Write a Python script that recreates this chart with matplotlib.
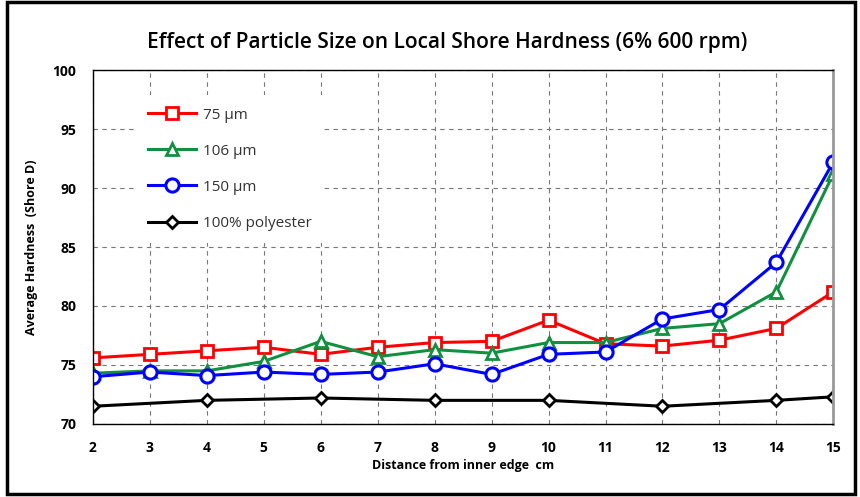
import matplotlib.pyplot as plt
from matplotlib.patches import Rectangle

plt.rcParams['font.family'] = ['Open Sans', 'DejaVu Sans']

# data
distance = [2, 3, 4, 5, 6, 7, 8, 9, 10, 11, 12, 13, 14, 15]
size_75 = [75.6, 75.9, 76.2, 76.5, 75.9, 76.5, 76.9, 77.0, 78.8, 76.8, 76.6, 77.1, 78.1, 81.2]
size_106 = [74.3, 74.5, 74.5, 75.3, 77.0, 75.7, 76.3, 76.0, 76.9, 76.9, 78.1, 78.5, 81.2, 91.2]
size_150 = [74.0, 74.4, 74.1, 74.4, 74.2, 74.4, 75.1, 74.2, 75.9, 76.1, 78.9, 79.7, 83.7, 92.2]
poly_x = [2, 4, 6, 8, 10, 12, 14, 15]
poly_y = [71.5, 72.0, 72.2, 72.0, 72.0, 71.5, 72.0, 72.3]

fig = plt.figure(figsize=(8.6, 4.97), dpi=100)
ax = fig.add_axes([0.108, 0.147, 0.861, 0.712])

lw = 2.2
ms = 8.5
ax.plot(distance, size_75, color='#ff0000', lw=lw, marker='s', ms=ms,
        mfc='white', mew=2, label='75 µm')
ax.plot(distance, size_106, color='#109040', lw=lw, marker='^', ms=ms,
        mfc='white', mew=2, label='106 µm')
ax.plot(distance, size_150, color='#0000ff', lw=lw, marker='o', ms=ms + 1,
        mfc='white', mew=2.2, label='150 µm')
ax.plot(poly_x, poly_y, color='black', lw=lw, marker='D', ms=6,
        mfc='white', mew=2, label='100% polyester')

ax.set_xlim(2, 15)
ax.set_ylim(70, 100)
ax.set_xticks(distance)
ax.set_yticks(range(70, 101, 5))
ax.tick_params(length=0, labelsize=10, pad=12)
for lab in ax.get_xticklabels() + ax.get_yticklabels():
    lab.set_fontweight('bold')
ax.grid(True, ls=(0, (4, 4)), color='#777777', lw=0.8)

for s in ['left', 'bottom', 'top']:
    ax.spines[s].set_linewidth(1.0)
ax.spines['right'].set_color('#999999')
ax.spines['right'].set_linewidth(2)

ax.set_xlabel('Distance from inner edge  cm', fontsize=9, fontweight='bold', labelpad=3)
ax.set_ylabel('Average Hardness  (Shore D)', fontsize=9, fontweight='bold', labelpad=10)
fig.text(0.52, 0.915, 'Effect of Particle Size on Local Shore Hardness (6% 600 rpm)',
         ha='center', va='center', fontsize=15, fontweight='semibold')

leg = ax.legend(loc='upper left', bbox_to_anchor=(0.047, 0.95), frameon=True,
                fancybox=False, framealpha=1, facecolor='white', edgecolor='none',
                fontsize=11, labelspacing=1.38, handlelength=3.2, handletextpad=0.4,
                borderpad=0.8)
for t in leg.get_texts():
    t.set_color('#333333')

fig.patches.append(Rectangle((0.008, 0.006), 0.986, 0.99, transform=fig.transFigure,
                             fill=False, ec='black', lw=2.5))

fig.savefig('out.png', dpi=100)
